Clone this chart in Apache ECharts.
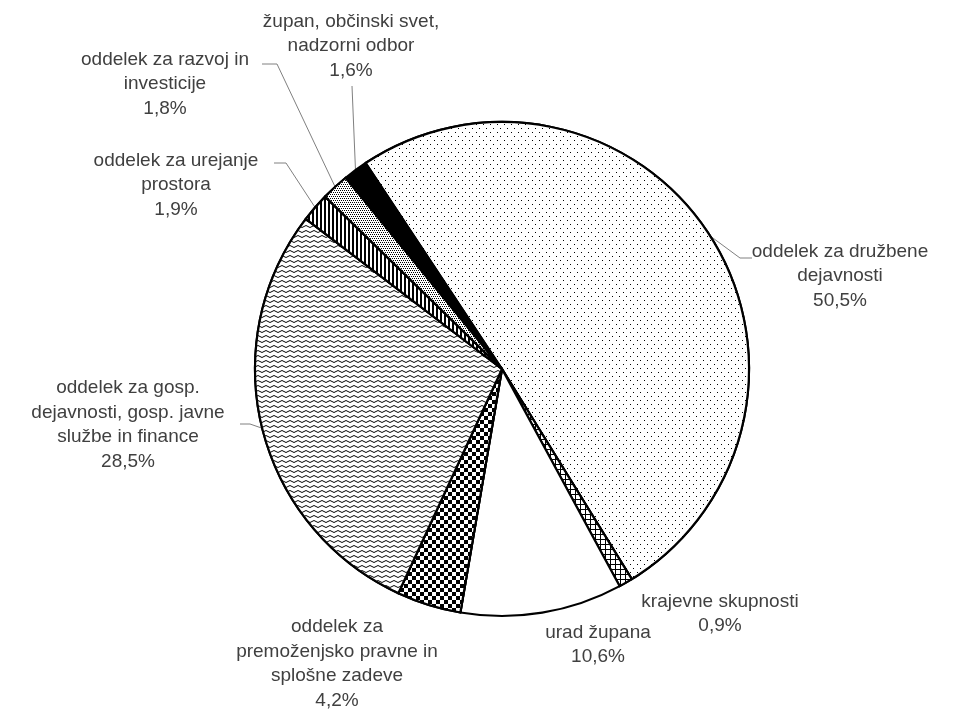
<!DOCTYPE html>
<html><head><meta charset="utf-8">
<script src="https://cdn.jsdelivr.net/npm/echarts@6/dist/echarts.min.js"></script>
<style>html,body{margin:0;padding:0;background:#fff}#c{width:957px;height:713px}</style>
</head><body><div id="c"></div>
<script>
const categories = [
  'oddelek za družbene\ndejavnosti',
  'krajevne skupnosti',
  'urad župana',
  'oddelek za\npremoženjsko pravne in\nsplošne zadeve',
  'oddelek za gosp.\ndejavnosti, gosp. javne\nslužbe in finance',
  'oddelek za urejanje\nprostora',
  'oddelek za razvoj in\ninvesticije',
  'župan, občinski svet,\nnadzorni odbor'
];
const values = [50.5, 0.9, 10.6, 4.2, 28.5, 1.9, 1.8, 1.6];

// fill patterns (styles)
const patterns = [
  {color: '#fff', decal: {symbol: 'rect', symbolKeepAspect: false, color: '#000', backgroundColor: '#fff', dashArrayX: [[1, 6], [0, 3, 1, 3]], dashArrayY: [1, 2.5]}},
  {color: '#fff', decal: {symbol: 'rect', symbolKeepAspect: false, color: '#000', backgroundColor: '#fff', dashArrayX: [[5, 0], [1, 4], [1, 4], [1, 4], [1, 4]], dashArrayY: [1, 0]}},
  {color: '#fff', decal: null},
  {color: '#fff', decal: {symbol: 'rect', symbolKeepAspect: false, color: '#000', backgroundColor: '#fff', dashArrayX: [[4, 4], [0, 4, 4, 0]], dashArrayY: [4, 0]}},
  {color: '#fff', decal: {symbol: 'path://M0,1L2,0L4,1L6,2L8,1L8,2L6,3L4,2L2,1L0,2Z', symbolKeepAspect: false, color: '#000', backgroundColor: '#fff', dashArrayX: [8, 0], dashArrayY: [3, 2]}},
  {color: '#fff', decal: {symbol: 'rect', symbolKeepAspect: false, color: '#000', backgroundColor: '#fff', dashArrayX: [2, 2], dashArrayY: [1, 0]}},
  {color: '#fff', decal: {symbol: 'rect', symbolKeepAspect: false, color: '#000', backgroundColor: '#fff', dashArrayX: [[1, 1], [0, 1, 1, 0]], dashArrayY: [1, 1]}},
  {color: '#000', decal: null}
];

// label placement (layout)
const labelPlaces = [
  {x: 840, y: 276, line: [[740, 258], [752, 258]]},
  {x: 720, y: 614, line: null},
  {x: 598, y: 645, line: null},
  {x: 337, y: 664, line: null},
  {x: 128, y: 425, line: [[250, 424], [240, 424]]},
  {x: 176, y: 185, line: [[286, 163], [274, 163]]},
  {x: 165, y: 84, line: [[277, 64], [262, 64]]},
  {x: 351, y: 46, line: [[352, 86], [352, 86]]}
];

const data = values.map((v, i) => {
  const p = patterns[i];
  const item = {
    value: v,
    name: categories[i],
    itemStyle: {color: p.color},
    labelLine: {show: !!labelPlaces[i].line}
  };
  if (p.decal) item.itemStyle.decal = p.decal;
  return item;
});

const chart = echarts.init(document.getElementById('c'), null, {renderer: 'canvas'});
chart.setOption({
  backgroundColor: '#fff',
  animation: false,
  series: [{
    type: 'pie',
    center: [502, 369],
    radius: 247,
    startAngle: 123.5,
    clockwise: true,
    avoidLabelOverlap: false,
    itemStyle: {borderColor: '#000', borderWidth: 2.2},
    emphasis: {disabled: true},
    label: {
      show: true,
      position: 'outside',
      color: '#404040',
      fontFamily: 'Liberation Sans',
      fontSize: 19,
      lineHeight: 24.5,
      align: 'center',
      formatter: p => p.name + '\n' + p.value.toFixed(1).replace('.', ',') + '%'
    },
    labelLine: {show: true, lineStyle: {color: '#808080', width: 1}},
    labelLayout: function (params) {
      const L = labelPlaces[params.dataIndex];
      const res = {x: L.x, y: L.y, align: 'center', verticalAlign: 'middle'};
      if (L.line && params.labelLinePoints) {
        res.labelLinePoints = [params.labelLinePoints[0]].concat(L.line);
      }
      return res;
    },
    data: data
  }]
});
</script>
</body></html>
